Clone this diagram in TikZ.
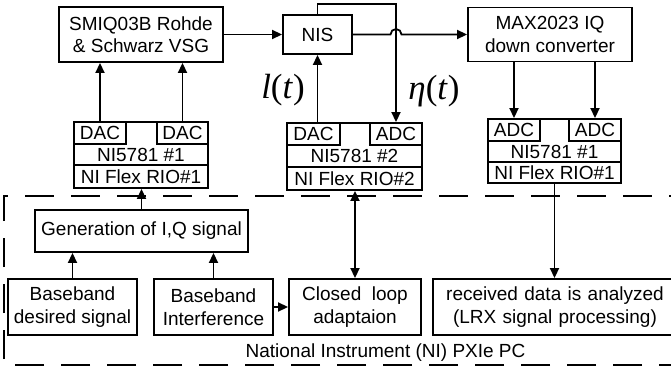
\documentclass[tikz,border=0pt]{standalone}
\usepackage{fontspec}
\setmainfont{Liberation Sans}
\newfontfamily\tnr{Liberation Serif}
\usetikzlibrary{arrows.meta}
\begin{document}
\begin{tikzpicture}[x=1pt,y=-1pt,
  box/.style={draw, line width=1.9pt, inner sep=0pt, align=center, font=\fontsize{19}{22.5}\selectfont},
  txt/.style={inner sep=0pt, align=center, font=\fontsize{19}{22.5}\selectfont},
  mlabel/.style={inner sep=0pt, font=\tnr\fontsize{35}{35}\selectfont},
  arr/.style={line width=1.8pt, -{Triangle[length=10pt,width=9pt]}},
  dblarr/.style={line width=1.8pt, {Triangle[length=10pt,width=9pt]}-{Triangle[length=10pt,width=9pt]}},
  frame/.style={line width=1.5pt, dash pattern=on 29pt off 17pt}
]
\useasboundingbox (0,0) rectangle (671,369);

% top instruments
\node[box, minimum width=164pt, minimum height=55pt] (smiq) at (141,34.5) {SMIQ03B Rohde\\\& Schwarz VSG};
\node[box, minimum width=69pt, minimum height=39pt] (nis) at (317.5,34.5) {NIS};
\node[box, minimum width=164pt, minimum height=54pt] (max) at (550,34.5) {MAX2023 IQ\\down converter};

% left module
\node[box, minimum width=134pt, minimum height=66pt] (modL) at (141,155) {};
\node[box, minimum width=52pt, minimum height=22pt] (dacL1) at (100,133) {DAC};
\node[box, minimum width=51pt, minimum height=22pt] (dacL2) at (182.5,133) {DAC};
\node[box, minimum width=134pt, minimum height=23pt] (rioL) at (141,176.5) {NI Flex RIO\#1};
\node[txt] (niL) at (141,154.5) {NI5781 \#1};

% middle module
\node[box, minimum width=135pt, minimum height=67pt] (modM) at (354.5,156.5) {};
\node[box, minimum width=53pt, minimum height=22pt] (dacM) at (313.5,134) {DAC};
\node[box, minimum width=52pt, minimum height=22pt] (adcM) at (396,134) {ADC};
\node[box, minimum width=135pt, minimum height=23pt] (rioM) at (354.5,178.5) {NI Flex RIO\#2};
\node[txt] (niM) at (354.5,156) {NI5781 \#2};

% right module
\node[box, minimum width=133pt, minimum height=64pt] (modR) at (554.5,151) {};
\node[box, minimum width=52pt, minimum height=22pt] (adcR1) at (514,130) {ADC};
\node[box, minimum width=52pt, minimum height=22pt] (adcR2) at (595,130) {ADC};
\node[box, minimum width=133pt, minimum height=21pt] (rioR) at (554.5,172.5) {NI Flex RIO\#1};
\node[txt] (niR) at (554.5,151.5) {NI5781 \#1};

% lower blocks
\node[box, minimum width=213pt, minimum height=42pt] (gen) at (141.5,231) {Generation of I,Q signal};
\node[box, minimum width=129pt, minimum height=56pt] (bbd) at (72.5,307) {Baseband\\desired signal};
\node[box, minimum width=119pt, minimum height=56pt] (bbi) at (213.5,307) {Baseband\\Interference};
\node[box, minimum width=132pt, minimum height=56pt] (cl) at (355,307) {Closed\ \ loop\\adaptaion};
\node[box, minimum width=244pt, minimum height=56pt, text width=240pt] (rx) at (555,307) {received data is analyzed\\(LRX signal processing)};
\node[txt] (pc) at (385.5,353) {National Instrument (NI) PXIe PC};

% math labels
\node[mlabel] (lt) at (283,90) {\textit{l}(\textit{t})};
\node[mlabel] (et) at (434,91) {\textit{η}(\textit{t})};

% dashed frame
\coordinate (fTL) at (4,196);
\coordinate (fBL) at (4,365);
\coordinate (fTR) at (680,196);
\coordinate (fBR) at (680,365);
\draw[frame, dash phase=8pt] (fBR) -- (fBL) -- (fTL) -- (fTR);

% connectors
\draw[arr] (smiq.east) -- (nis.west);
\coordinate (c1) at (317.5,4);
\coordinate (c2) at (396,4);
\draw[arr] (nis.north) -- (c1) -- (c2) -- (adcM.north);
\draw[arr] (nis.east) -- ([xshift=-5.5pt]c2 |- nis.east) arc[start angle=180, end angle=0, radius=5.5pt] -- (max.west);

\draw[arr] (dacL1.north) -- (dacL1.north |- smiq.south);
\draw[arr] (dacL2.north) -- (dacL2.north |- smiq.south);
\draw[arr] (nis.south |- dacM.north) -- (nis.south);
\draw[arr] (adcR1.north |- max.south) -- (adcR1.north);
\draw[arr] (adcR2.north |- max.south) -- (adcR2.north);

\draw[arr] (gen.north) -- (gen.north |- modL.south);
\draw[arr] (bbd.north) -- (bbd.north |- gen.south);
\draw[arr] (bbi.north) -- (bbi.north |- gen.south);
\draw[arr] (bbi.east) -- (cl.west);
\draw[dblarr] (cl.north) -- (cl.north |- modM.south);
\draw[arr] (modR.south) -- (modR.south |- rx.north);
\end{tikzpicture}
\end{document}
